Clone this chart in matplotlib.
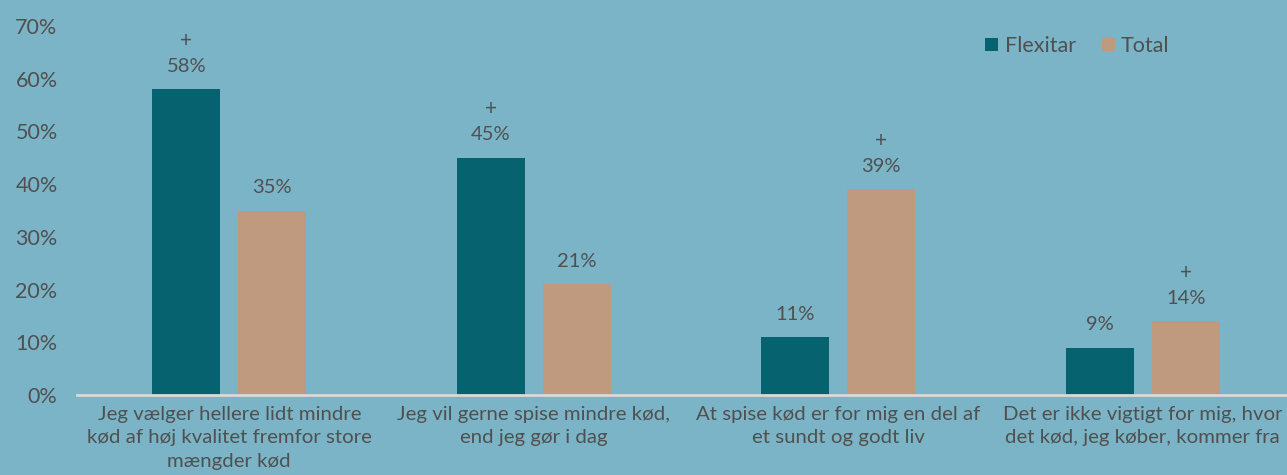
import matplotlib
matplotlib.use("Agg")
import matplotlib.pyplot as plt
import numpy as np

categories = [
    "Jeg vælger hellere lidt mindre\nkød af høj kvalitet fremfor store\nmængder kød",
    "Jeg vil gerne spise mindre kød,\nend jeg gør i dag",
    "At spise kød er for mig en del af\net sundt og godt liv",
    "Det er ikke vigtigt for mig, hvor\ndet kød, jeg køber, kommer fra",
]
flexitar = [58, 45, 11, 9]
total = [35, 21, 39, 14]
flexitar_plus = [True, True, False, False]
total_plus = [False, False, True, True]
yticks = [0, 10, 20, 30, 40, 50, 60, 70]

BG = "#7BB4C6"
C_FLEX = "#06626E"
C_TOT = "#C09A7E"
TXT = "#505050"

plt.rcParams['font.family'] = ['Lato', 'DejaVu Sans']

fig = plt.figure(figsize=(12.87, 4.75), dpi=100, facecolor=BG)
ax = fig.add_axes([77/1287, 80/475, 1218/1287, 369/475])
ax.set_facecolor(BG)

x = np.arange(len(categories))
w = 0.223
off = 0.141
b1 = ax.bar(x - off, flexitar, w, color=C_FLEX, label="Flexitar", zorder=3)
b2 = ax.bar(x + off, total, w, color=C_TOT, label="Total", zorder=3)

for bars, vals, plus in [(b1, flexitar, flexitar_plus), (b2, total, total_plus)]:
    for rect, v, p in zip(bars, vals, plus):
        cx = rect.get_x() + rect.get_width() / 2
        ax.annotate(f"{v}%", (cx, v), xytext=(0, 16.5), textcoords="offset points",
                    ha="center", va="center", fontsize=14.5, color=TXT)
        if p:
            ax.annotate("+", (cx, v), xytext=(0, 35), textcoords="offset points",
                        ha="center", va="center", fontsize=15, color=TXT)

ax.set_xlim(-0.5, 3.5)
ax.set_ylim(0, 70)
ax.set_yticks(yticks)
ax.set_yticklabels([f"{t}%" for t in yticks], fontsize=15.5, color=TXT)
ax.set_xticks(x)
ax.set_xticklabels(categories, fontsize=14.7, color=TXT, linespacing=1.45)
ax.tick_params(axis='both', length=0)
ax.tick_params(axis='y', pad=14)
ax.tick_params(axis='x', pad=8)
for s in ['top', 'right', 'left']:
    ax.spines[s].set_visible(False)
ax.spines['bottom'].set_color("#D9D9D9")
ax.spines['bottom'].set_linewidth(2)
ax.spines['bottom'].set_zorder(4)

leg = ax.legend(loc="upper left", bbox_to_anchor=(966/1218 - 77/1218, 1.025), ncol=2, frameon=False,
                fontsize=15.5, handlelength=0.6, handleheight=0.6, handletextpad=0.3,
                columnspacing=1.2, labelcolor=TXT)

fig.savefig("out.png", dpi=100, facecolor=BG)
